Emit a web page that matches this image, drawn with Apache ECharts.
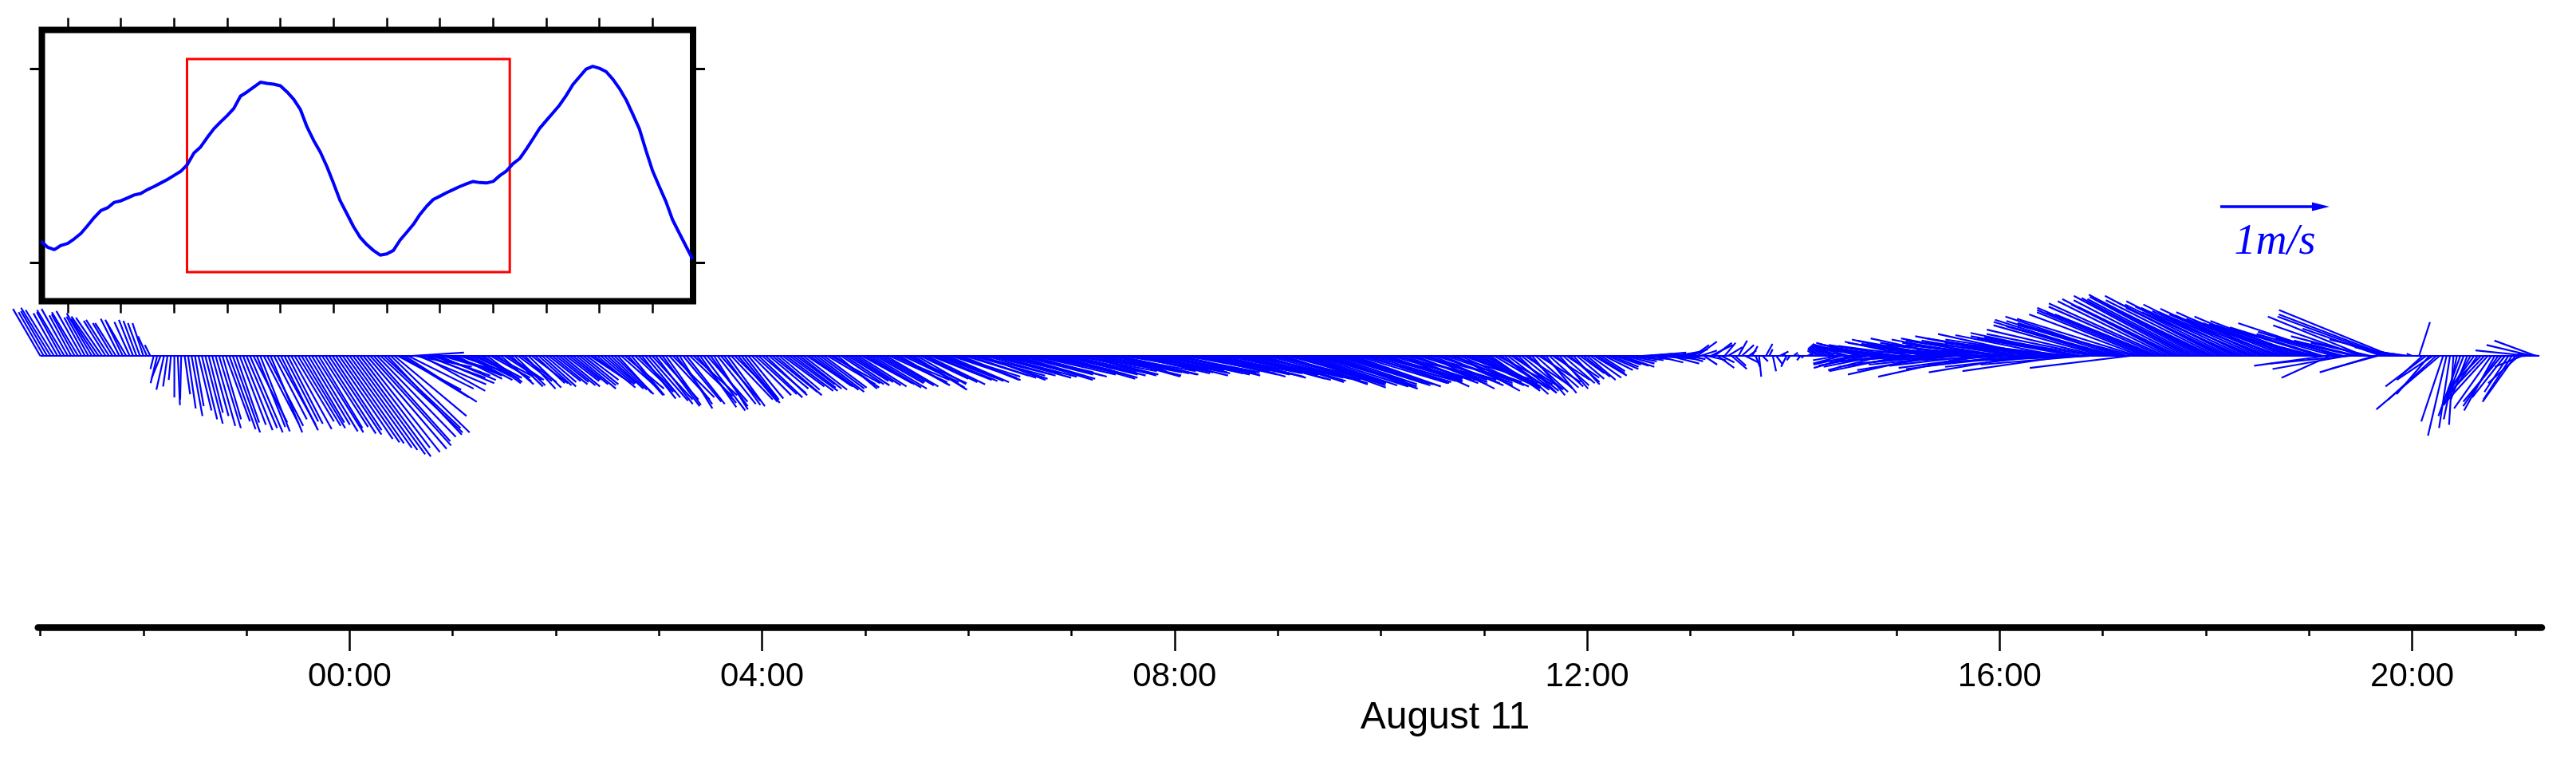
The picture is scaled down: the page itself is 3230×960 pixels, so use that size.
<!DOCTYPE html>
<html>
<head>
<meta charset="utf-8">
<script src="https://cdn.jsdelivr.net/npm/echarts@6/dist/echarts.min.js"></script>
<style>
html, body { margin: 0; padding: 0; background: #fff; }
#chart { width: 3230px; height: 960px; }
</style>
</head>
<body>
<div id="chart"></div>
<script>
// time is in hours relative to 00:00 on August 11

// current sticks (m/s), one every 2 minutes from 21:00 on August 10
var sampleStartHour = -3;
var sampleStepMin = 2;
var eastU = [
    // 21h
    -0.25, -0.23, -0.24, -0.27, -0.26, -0.22, -0.22, -0.25, -0.24, -0.20,
    -0.21, -0.24, -0.23, -0.19, -0.20, -0.23, -0.22, -0.25, -0.24, -0.20,
    -0.21, -0.18, -0.19, -0.17, -0.16, -0.18, -0.14, -0.13, -0.12, -0.11,
    // 22h
    -0.10, -0.08, -0.05, -0.03, -0.06, -0.08, -0.07, -0.04, -0.02, 0.00,
    0.02, -0.01, 0.05, 0.07, 0.10, 0.08, 0.12, 0.14, 0.16, 0.13,
    0.15, 0.18, 0.20, 0.17, 0.22, 0.24, 0.25, 0.21, 0.24, 0.27,
    // 23h
    0.28, 0.30, 0.31, 0.26, 0.27, 0.32, 0.33, 0.29, 0.30, 0.35,
    0.34, 0.31, 0.32, 0.37, 0.36, 0.39, 0.40, 0.36, 0.38, 0.42,
    0.44, 0.40, 0.42, 0.46, 0.48, 0.45, 0.52, 0.55, 0.56, 0.60,
    // 00h
    0.62, 0.66, 0.68, 0.64, 0.70, 0.73, 0.74, 0.70, 0.72, 0.75,
    0.70, 0.68, 0.72, 0.66, 0.58, 0.62, 0.66, 0.60, 0.48, 0.52,
    0.62, 0.58, 0.55, 0.60, 0.45, 0.50, 0.52, 0.47, 0.42, 0.46,
    // 01h
    0.45, 0.42, 0.40, 0.44, 0.42, 0.38, 0.35, 0.39, 0.38, 0.34,
    0.32, 0.36, 0.36, 0.31, 0.30, 0.34, 0.33, 0.29, 0.28, 0.31,
    0.32, 0.28, 0.30, 0.33, 0.27, 0.30, 0.31, 0.28, 0.29, 0.32,
    // 02h
    0.30, 0.33, 0.34, 0.30, 0.28, 0.32, 0.36, 0.33, 0.32, 0.29,
    0.30, 0.34, 0.35, 0.31, 0.29, 0.33, 0.33, 0.36, 0.31, 0.34,
    0.36, 0.32, 0.30, 0.35, 0.34, 0.31, 0.32, 0.36, 0.37, 0.34,
    // 03h
    0.36, 0.34, 0.32, 0.37, 0.38, 0.33, 0.30, 0.35, 0.35, 0.39,
    0.40, 0.36, 0.33, 0.38, 0.37, 0.34, 0.31, 0.35, 0.36, 0.33,
    0.34, 0.38, 0.39, 0.36, 0.35, 0.31, 0.32, 0.36, 0.38, 0.40,
    // 04h
    0.40, 0.38, 0.36, 0.41, 0.42, 0.37, 0.38, 0.43, 0.44, 0.39,
    0.35, 0.38, 0.40, 0.42, 0.37, 0.41, 0.43, 0.40, 0.39, 0.44,
    0.45, 0.41, 0.36, 0.39, 0.41, 0.37, 0.38, 0.42, 0.44, 0.46,
    // 05h
    0.45, 0.48, 0.50, 0.44, 0.42, 0.47, 0.48, 0.53, 0.52, 0.47,
    0.46, 0.51, 0.55, 0.50, 0.49, 0.45, 0.44, 0.49, 0.53, 0.56,
    0.58, 0.53, 0.50, 0.54, 0.56, 0.60, 0.60, 0.56, 0.54, 0.58,
    // 06h
    0.62, 0.67, 0.70, 0.63, 0.58, 0.64, 0.66, 0.72, 0.74, 0.66,
    0.60, 0.65, 0.68, 0.73, 0.72, 0.67, 0.64, 0.69, 0.70, 0.75,
    0.76, 0.68, 0.62, 0.67, 0.69, 0.74, 0.73, 0.70, 0.66, 0.71,
    // 07h
    0.70, 0.75, 0.78, 0.70, 0.65, 0.71, 0.74, 0.79, 0.80, 0.72,
    0.68, 0.73, 0.76, 0.74, 0.72, 0.78, 0.82, 0.76, 0.70, 0.74,
    0.77, 0.79, 0.74, 0.70, 0.80, 0.76, 0.69, 0.72, 0.75, 0.78,
    // 08h
    0.78, 0.74, 0.72, 0.77, 0.80, 0.76, 0.75, 0.80, 0.84, 0.77,
    0.70, 0.75, 0.79, 0.77, 0.76, 0.80, 0.82, 0.78, 0.74, 0.78,
    0.80, 0.76, 0.77, 0.82, 0.85, 0.78, 0.73, 0.77, 0.81, 0.79,
    // 09h
    0.82, 0.79, 0.76, 0.82, 0.86, 0.83, 0.80, 0.76, 0.74, 0.81,
    0.88, 0.84, 0.79, 0.82, 0.84, 0.80, 0.77, 0.80, 0.83, 0.78,
    0.72, 0.76, 0.80, 0.83, 0.85, 0.80, 0.75, 0.78, 0.81, 0.78,
    // 10h
    0.74, 0.71, 0.68, 0.73, 0.78, 0.70, 0.62, 0.67, 0.72, 0.69,
    0.66, 0.71, 0.75, 0.68, 0.60, 0.65, 0.70, 0.67, 0.64, 0.69,
    0.73, 0.65, 0.58, 0.63, 0.68, 0.65, 0.62, 0.59, 0.56, 0.54,
    // 11h
    0.52, 0.48, 0.45, 0.49, 0.50, 0.44, 0.40, 0.43, 0.46, 0.40,
    0.35, 0.38, 0.42, 0.36, 0.30, 0.34, 0.38, 0.33, 0.28, 0.31,
    0.34, 0.30, 0.26, 0.29, 0.30, 0.27, 0.24, 0.25, 0.22, 0.24,
    // 12h
    0.26, 0.28, 0.30, 0.25, 0.22, 0.26, 0.28, 0.25, 0.24, 0.28,
    0.30, 0.27, 0.26, 0.29, 0.32, 0.30, 0.28, 0.31, 0.34, 0.29,
    0.25, 0.28, 0.30, 0.27, 0.27, 0.24, 0.22, 0.20, 0.18, 0.17,
    // 13h
    0.16, 0.14, 0.18, 0.15, 0.12, 0.17, 0.20, 0.16, 0.15, 0.12,
    0.10, 0.13, 0.14, 0.10, 0.08, 0.11, 0.12, 0.07, 0.05, 0.04,
    0.02, 0.05, 0.06, 0.03, 0.03, 0.06, 0.08, 0.02, -0.05, -0.03,
    // 14h
    0.04, 0.02, -0.03, -0.02, 0.05, 0.02, -0.06, -0.08, -0.12, -0.14,
    -0.16, -0.18, -0.20, -0.23, -0.26, -0.28, -0.32, -0.35, -0.38, -0.40,
    -0.42, -0.44, -0.46, -0.49, -0.52, -0.51, -0.50, -0.54, -0.56, -0.58,
    // 15h
    -0.62, -0.64, -0.68, -0.61, -0.60, -0.69, -0.72, -0.65, -0.66, -0.73,
    -0.76, -0.70, -0.70, -0.77, -0.80, -0.73, -0.74, -0.80, -0.82, -0.77,
    -0.78, -0.84, -0.86, -0.79, -0.80, -0.88, -0.90, -0.83, -0.84, -0.86,
    // 16h
    -0.86, -0.89, -0.92, -0.85, -0.84, -0.93, -0.95, -0.88, -0.90, -0.96,
    -0.98, -0.91, -0.88, -0.93, -0.94, -0.97, -1.00, -0.94, -0.92, -0.98,
    -0.97, -0.93, -0.90, -0.99, -1.02, -0.96, -0.95, -0.99, -1.00, -1.03,
    // 17h
    -1.00, -1.03, -1.05, -0.98, -0.96, -1.04, -1.08, -1.00, -0.92, -1.06,
    -1.10, -1.02, -0.98, -1.01, -1.04, -0.99, -0.94, -1.03, -1.06, -1.01,
    -1.00, -0.95, -0.92, -0.99, -1.02, -0.98, -0.96, -0.99, -1.00, -1.04,
    // 18h
    -1.02, -0.99, -0.96, -1.01, -1.05, -0.97, -0.92, -0.96, -0.98, -0.93,
    -0.90, -0.94, -0.95, -0.90, -0.86, -0.90, -0.92, -0.87, -0.84, -0.88,
    -0.90, -0.84, -0.80, -0.84, -0.86, -0.81, -0.78, -0.82, -0.84, -0.82,
    // 19h
    -0.80, -0.76, -0.72, -0.78, -0.85, -0.66, -0.44, -0.70, -0.90, -0.75,
    -0.62, -0.68, -0.73, -0.64, -0.58, -0.80, -0.88, -0.70, -0.55, -0.50,
    -0.44, -0.72, -0.98, -1.00, -1.03, -0.60, -0.40, -0.32, -0.25, -0.15,
    // 20h
    -0.05, 0.02, 0.10, -0.22, -0.37, -0.30, -0.33, -0.44, -0.58, -0.20,
    -0.17, -0.10, -0.04, -0.12, -0.20, -0.18, -0.15, -0.22, -0.26, -0.30,
    -0.30, -0.36, -0.41, -0.34, -0.28, -0.32, -0.35, -0.30, -0.22, -0.26,
    // 21h
    -0.30, -0.28, -0.25, -0.35, -0.49, -0.42, -0.38, -0.20
];
var northV = [
    // 21h
    0.43, 0.40, 0.41, 0.44, 0.42, 0.39, 0.40, 0.42, 0.43, 0.37,
    0.38, 0.40, 0.41, 0.35, 0.36, 0.39, 0.34, 0.36, 0.35, 0.32,
    0.33, 0.30, 0.30, 0.34, 0.33, 0.31, 0.31, 0.33, 0.32, 0.30,
    // 22h
    0.30, 0.18, 0.10, -0.12, -0.25, -0.20, -0.31, -0.28, -0.22, -0.38,
    -0.45, -0.40, -0.35, -0.48, -0.55, -0.46, -0.50, -0.58, -0.62, -0.52,
    -0.55, -0.64, -0.66, -0.58, -0.60, -0.67, -0.70, -0.61, -0.63, -0.68,
    // 23h
    -0.66, -0.70, -0.61, -0.65, -0.69, -0.62, -0.64, -0.70, -0.58, -0.63,
    -0.68, -0.60, -0.62, -0.67, -0.60, -0.64, -0.66, -0.61, -0.63, -0.69,
    -0.70, -0.66, -0.65, -0.71, -0.72, -0.68, -0.76, -0.79, -0.80, -0.84,
    // 00h
    -0.86, -0.90, -0.92, -0.84, -0.88, -0.85, -0.82, -0.78, -0.74, -0.70,
    -0.66, -0.72, -0.70, -0.55, -0.31, -0.38, -0.42, -0.30, 0.03, -0.10,
    -0.26, -0.32, -0.20, -0.25, -0.15, -0.18, -0.22, -0.14, -0.12, -0.16,
    // 01h
    -0.18, -0.21, -0.14, -0.17, -0.22, -0.19, -0.16, -0.21, -0.20, -0.25,
    -0.24, -0.20, -0.19, -0.23, -0.26, -0.22, -0.22, -0.28, -0.27, -0.23,
    -0.24, -0.30, -0.29, -0.25, -0.25, -0.27, -0.28, -0.24, -0.23, -0.26,
    // 02h
    -0.24, -0.27, -0.28, -0.23, -0.22, -0.26, -0.30, -0.27, -0.26, -0.22,
    -0.20, -0.25, -0.29, -0.26, -0.25, -0.30, -0.31, -0.35, -0.34, -0.30,
    -0.30, -0.36, -0.36, -0.33, -0.33, -0.39, -0.38, -0.41, -0.40, -0.44,
    // 03h
    -0.40, -0.46, -0.45, -0.40, -0.38, -0.44, -0.48, -0.42, -0.44, -0.37,
    -0.36, -0.43, -0.47, -0.50, -0.42, -0.46, -0.49, -0.44, -0.41, -0.45,
    -0.46, -0.40, -0.38, -0.42, -0.43, -0.40, -0.39, -0.36, -0.35, -0.38,
    // 04h
    -0.34, -0.36, -0.30, -0.33, -0.36, -0.31, -0.28, -0.32, -0.32, -0.29,
    -0.26, -0.30, -0.31, -0.28, -0.27, -0.31, -0.33, -0.30, -0.29, -0.26,
    -0.25, -0.29, -0.30, -0.26, -0.27, -0.23, -0.24, -0.27, -0.28, -0.25,
    // 05h
    -0.26, -0.29, -0.30, -0.25, -0.24, -0.27, -0.28, -0.24, -0.22, -0.26,
    -0.27, -0.24, -0.25, -0.29, -0.31, -0.26, -0.21, -0.24, -0.26, -0.22,
    -0.23, -0.20, -0.20, -0.23, -0.24, -0.20, -0.19, -0.22, -0.22, -0.18,
    // 06h
    -0.20, -0.18, -0.17, -0.21, -0.22, -0.18, -0.16, -0.20, -0.19, -0.15,
    -0.14, -0.17, -0.18, -0.22, -0.21, -0.17, -0.15, -0.18, -0.19, -0.17,
    -0.16, -0.14, -0.13, -0.16, -0.17, -0.21, -0.20, -0.17, -0.15, -0.18,
    // 07h
    -0.16, -0.14, -0.13, -0.17, -0.18, -0.14, -0.12, -0.15, -0.15, -0.18,
    -0.19, -0.16, -0.14, -0.17, -0.17, -0.13, -0.12, -0.15, -0.16, -0.13,
    -0.13, -0.16, -0.18, -0.15, -0.15, -0.13, -0.14, -0.16, -0.17, -0.15,
    // 08h
    -0.15, -0.17, -0.18, -0.14, -0.13, -0.16, -0.17, -0.15, -0.14, -0.17,
    -0.19, -0.17, -0.16, -0.19, -0.20, -0.17, -0.15, -0.17, -0.18, -0.21,
    -0.22, -0.19, -0.17, -0.20, -0.21, -0.23, -0.24, -0.21, -0.19, -0.22,
    // 09h
    -0.22, -0.25, -0.26, -0.23, -0.24, -0.27, -0.29, -0.26, -0.25, -0.27,
    -0.28, -0.25, -0.23, -0.27, -0.30, -0.28, -0.26, -0.25, -0.27, -0.26,
    -0.24, -0.26, -0.28, -0.25, -0.22, -0.24, -0.25, -0.23, -0.21, -0.23,
    // 10h
    -0.20, -0.22, -0.24, -0.21, -0.18, -0.23, -0.28, -0.25, -0.22, -0.24,
    -0.26, -0.22, -0.19, -0.25, -0.30, -0.27, -0.23, -0.25, -0.27, -0.24,
    -0.21, -0.27, -0.32, -0.28, -0.25, -0.27, -0.29, -0.28, -0.27, -0.29,
    // 11h
    -0.28, -0.30, -0.32, -0.29, -0.26, -0.31, -0.35, -0.33, -0.30, -0.32,
    -0.34, -0.31, -0.28, -0.33, -0.36, -0.30, -0.24, -0.29, -0.34, -0.28,
    -0.22, -0.27, -0.30, -0.25, -0.20, -0.24, -0.26, -0.21, -0.16, -0.19,
    // 12h
    -0.22, -0.20, -0.18, -0.16, -0.14, -0.13, -0.12, -0.10, -0.08, -0.09,
    -0.10, -0.07, -0.05, -0.04, -0.03, 0.00, 0.02, 0.01, 0.03, -0.02,
    -0.06, -0.02, 0.02, -0.03, -0.07, -0.01, 0.04, 0.00, -0.05, -0.03,
    // 13h
    0.06, 0.10, 0.13, 0.05, -0.08, -0.04, 0.10, 0.12, -0.11, -0.06,
    0.12, 0.08, -0.12, -0.09, 0.14, 0.10, -0.06, 0.05, 0.09, -0.10,
    -0.19, -0.05, 0.11, 0.06, -0.14, -0.08, 0.04, 0.02, -0.10, -0.04,
    // 14h
    0.03, 0.01, -0.04, -0.02, 0.02, 0.03, 0.05, 0.06, 0.07, 0.08,
    0.09, 0.10, 0.11, -0.04, -0.07, 0.06, 0.09, -0.08, -0.11, 0.10,
    0.12, -0.06, -0.09, 0.08, 0.11, -0.10, -0.13, 0.05, 0.08, -0.06,
    // 15h
    0.10, 0.06, -0.14, -0.05, 0.13, 0.09, -0.10, -0.04, 0.15, 0.12,
    -0.17, -0.07, 0.11, 0.14, -0.13, -0.06, 0.16, 0.10, -0.08, 0.04,
    0.12, 0.08, -0.19, -0.09, 0.15, 0.10, 0.05, -0.11, 0.16, 0.12,
    // 16h
    0.10, 0.14, -0.12, -0.04, 0.14, 0.18, 0.06, -0.09, -0.15, 0.12,
    0.16, 0.20, 0.12, -0.06, -0.10, 0.13, 0.15, 0.19, 0.08, -0.05,
    -0.14, 0.10, 0.16, 0.21, 0.18, -0.08, -0.04, 0.17, 0.20, 0.24,
    // 17h
    0.28, 0.31, 0.33, 0.27, 0.26, 0.32, 0.36, 0.30, -0.11, 0.28,
    0.34, 0.38, 0.40, 0.42, 0.44, 0.40, 0.38, 0.45, 0.48, 0.50,
    0.52, 0.47, 0.45, 0.51, 0.55, 0.53, 0.50, 0.52, 0.54, 0.56,
    // 18h
    0.53, 0.50, 0.46, 0.51, 0.55, 0.49, 0.44, 0.47, 0.50, 0.45,
    0.40, 0.44, 0.47, 0.41, 0.36, 0.40, 0.43, 0.38, 0.33, 0.37,
    0.40, 0.34, 0.28, 0.33, 0.36, 0.30, 0.26, 0.29, 0.32, 0.28,
    // 19h
    0.22, 0.20, 0.18, 0.24, 0.26, -0.09, -0.20, 0.20, 0.30, 0.22,
    0.16, -0.12, -0.07, 0.15, 0.14, 0.28, 0.36, 0.18, 0.12, -0.15,
    -0.12, 0.25, 0.36, 0.38, 0.42, 0.15, 0.08, 0.06, 0.04, 0.02,
    // 20h
    0.02, 0.00, 0.31, -0.20, -0.28, -0.35, -0.22, -0.40, -0.49, -0.60,
    -0.73, -0.66, -0.63, -0.58, -0.55, -0.45, -0.40, -0.38, -0.36, -0.42,
    -0.30, -0.38, -0.45, -0.48, -0.50, -0.46, -0.42, -0.38, -0.33, -0.40,
    // 21h
    -0.42, -0.25, -0.10, 0.00, 0.05, 0.10, 0.14, 0.02
];

// main time axis
var axisStartHour = -3.0217;
var axisEndHour = 21.256;
var hourTicks = [-3, -2, -1, 0, 1, 2, 3, 4, 5, 6, 7, 8, 9, 10, 11, 12, 13, 14, 15, 16, 17, 18, 19, 20, 21];
var labelTicks = [0, 4, 8, 12, 16, 20];
var dayLabel = 'August 11';

// scale key
var keyHour = 18.139;
var keyNorth = 1.365;
var keySpeed = 1;
var keyLabel = '1m/s';

// inset: water level, every half hour from 10:00 on August 10
var levelStartHour = -14;
var levelStepHour = 0.5;
var levelValues = [
    0.110, 0.078, 0.066, 0.088, 0.098, 0.122, 0.150, 0.190, 0.232, 0.268,
    0.282, 0.310, 0.318, 0.333, 0.348, 0.356, 0.376, 0.392, 0.410, 0.428,
    0.449, 0.470, 0.505, 0.565, 0.596, 0.645, 0.690, 0.725, 0.758, 0.795,
    0.858, 0.880, 0.905, 0.930, 0.924, 0.920, 0.912, 0.880, 0.842, 0.790,
    0.700, 0.630, 0.570, 0.495, 0.408, 0.318, 0.252, 0.185, 0.130, 0.092,
    0.062, 0.038, 0.044, 0.062, 0.115, 0.155, 0.196, 0.248, 0.290, 0.325,
    0.342, 0.360, 0.376, 0.392, 0.406, 0.418, 0.412, 0.410, 0.418, 0.448,
    0.472, 0.510, 0.536, 0.585, 0.638, 0.692, 0.732, 0.772, 0.812, 0.862,
    0.918, 0.958, 0.998, 1.012, 1.002, 0.985, 0.946, 0.898, 0.840, 0.766,
    0.690, 0.578, 0.472, 0.392, 0.314, 0.220, 0.152, 0.085, 0.018
];
var insetStartHour = -13.94;
var insetEndHour = 35.04;
var insetHourTicks = [-12, -8, -4, 0, 4, 8, 12, 16, 20, 24, 28, 32];
var insetLevelTicks = [0, 1];
var boxLevelRange = [-0.05, 1.05];

var stickData = [];
for (var i = 0; i < eastU.length; i++) {
    stickData.push([sampleStartHour + i * sampleStepMin / 60, eastU[i], northV[i]]);
}
// zero line under the sticks, from first to last sample
var baseLine = [[stickData[0][0], 0], [stickData[stickData.length - 1][0], 0]];

var levelData = [];
for (var j = 0; j < levelValues.length; j++) {
    levelData.push([levelStartHour + j * levelStepHour, levelValues[j]]);
}

function hourLabel(v) {
    var h = ((Math.round(v) % 24) + 24) % 24;
    return (h < 10 ? '0' : '') + h + ':00';
}

function insetXAxis(pos) {
    return {
        gridIndex: 1, type: 'value', min: insetStartHour, max: insetEndHour, position: pos,
        axisLine: { show: false, onZero: false },
        axisTick: { customValues: insetHourTicks, length: 15, lineStyle: { color: '#000', width: 2.5 } },
        axisLabel: { show: false },
        splitLine: { show: false }
    };
}
function insetYAxis(pos) {
    return {
        gridIndex: 1, type: 'value', min: -0.2, max: 1.2, position: pos,
        axisLine: { show: false, onZero: false },
        axisTick: { customValues: insetLevelTicks, length: 15, lineStyle: { color: '#000', width: 3 } },
        axisLabel: { show: false },
        splitLine: { show: false }
    };
}

var chart = echarts.init(document.getElementById('chart'));

var option = {
    animation: false,
    backgroundColor: '#fff',
    grid: [
        { left: 47.7, top: 103.5, width: 3139.3, height: 683 },
        { left: 52.5, top: 37.5, width: 816.5, height: 340, show: true, borderColor: '#000', borderWidth: 8, backgroundColor: 'rgba(0,0,0,0)' }
    ],
    xAxis: [
        {
            gridIndex: 0, type: 'value', min: axisStartHour, max: axisEndHour, position: 'bottom',
            axisLine: { onZero: false, lineStyle: { color: '#000', width: 8.5 } },
            axisTick: { customValues: hourTicks, length: 10.5, lineStyle: { color: '#000', width: 2.5 } },
            axisLabel: { show: false },
            splitLine: { show: false }
        },
        {
            gridIndex: 0, type: 'value', min: axisStartHour, max: axisEndHour, position: 'bottom',
            axisLine: { show: false, onZero: false },
            axisTick: { customValues: labelTicks, length: 29.5, lineStyle: { color: '#000', width: 2.5 } },
            axisLabel: {
                customValues: labelTicks, formatter: hourLabel, margin: 41,
                fontSize: 42, fontFamily: 'Liberation Sans', color: '#000'
            },
            splitLine: { show: false }
        },
        insetXAxis('bottom'),
        insetXAxis('top')
    ],
    yAxis: [
        { gridIndex: 0, type: 'value', min: -2.485, max: 2.5, show: false, splitLine: { show: false } },
        insetYAxis('left'),
        insetYAxis('right')
    ],
    graphic: [
        {
            type: 'text', x: 1812, y: 900,
            style: {
                text: dayLabel, fill: '#000', font: '48px "Liberation Sans"',
                align: 'center', verticalAlign: 'middle'
            }
        }
    ],
    series: [
        {
            type: 'line',
            xAxisIndex: 0, yAxisIndex: 0,
            data: baseLine,
            showSymbol: false,
            silent: true,
            lineStyle: { color: '#0000ff', width: 2 }
        },
        {
            type: 'custom',
            xAxisIndex: 0, yAxisIndex: 0,
            data: stickData,
            encode: { x: 0, y: 2 },
            clip: false,
            silent: true,
            renderItem: function (params, api) {
                var base = api.coord([api.value(0), 0]);
                var k = api.size([0, 1])[1]; // pixels for 1 m/s
                return {
                    type: 'line',
                    shape: { x1: base[0], y1: base[1], x2: base[0] + api.value(1) * k, y2: base[1] - api.value(2) * k },
                    style: { stroke: '#0000ff', lineWidth: 2.2 }
                };
            }
        },
        {
            type: 'custom',
            xAxisIndex: 0, yAxisIndex: 0,
            data: [[keyHour, keyNorth, keySpeed]],
            encode: { x: 0, y: 1 },
            clip: false,
            silent: true,
            renderItem: function (params, api) {
                var p = api.coord([api.value(0), api.value(1)]);
                var len = api.size([0, api.value(2)])[1];
                return {
                    type: 'group',
                    children: [
                        { type: 'line', shape: { x1: p[0], y1: p[1], x2: p[0] + len - 18, y2: p[1] }, style: { stroke: '#0000ff', lineWidth: 3.5 } },
                        { type: 'polygon', shape: { points: [[p[0] + len, p[1]], [p[0] + len - 22, p[1] - 5.5], [p[0] + len - 22, p[1] + 5.5]] }, style: { fill: '#0000ff' } },
                        {
                            type: 'text', x: p[0] + len / 2, y: p[1] + 45,
                            style: { text: keyLabel, fill: '#0000ff', font: 'italic 54px "Liberation Serif"', align: 'center', verticalAlign: 'middle' }
                        }
                    ]
                };
            }
        },
        {
            type: 'line',
            xAxisIndex: 2, yAxisIndex: 1,
            data: levelData,
            showSymbol: false,
            silent: true,
            lineStyle: { color: '#0000ff', width: 4 },
            markArea: {
                silent: true,
                label: { show: false },
                itemStyle: { color: 'rgba(0,0,0,0)', borderColor: '#ff0000', borderWidth: 3 },
                data: [[
                    { xAxis: axisStartHour, yAxis: boxLevelRange[0] },
                    { xAxis: axisEndHour, yAxis: boxLevelRange[1] }
                ]]
            }
        }
    ]
};

chart.setOption(option);
</script>
</body>
</html>
